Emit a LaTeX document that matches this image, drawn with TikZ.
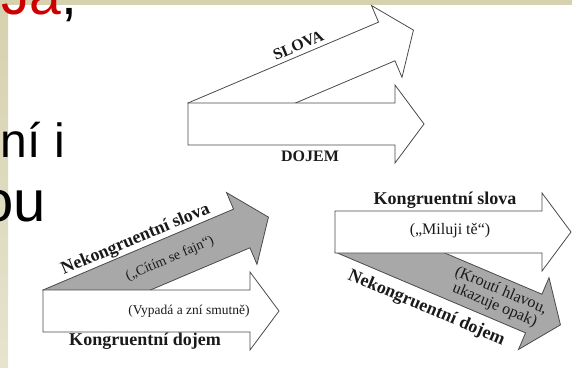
\documentclass[tikz,border=0pt]{standalone}
\usepackage{fontspec}
\setmainfont{Liberation Serif}
\newfontfamily\slidefont{Liberation Sans}
\definecolor{beige}{HTML}{D6D1AE}
\definecolor{beigelight}{HTML}{E6E3CF}
\definecolor{slidered}{HTML}{CC0000}
\definecolor{arrline}{HTML}{4A4A4A}
\definecolor{greyfill}{HTML}{A8A8A8}
\definecolor{ink}{HTML}{1A1A1A}
\tikzset{
  bigarrow/.pic={\path[pic actions] (0,0) -- (207,0) -- (207,-18) -- (236,21) -- (207,60) -- (207,42) -- (0,42) -- cycle;},
  bigarrowbl/.pic={\path[pic actions] (0,-42) -- (207,-42) -- (207,-60) -- (236,-21) -- (207,18) -- (207,0) -- (0,0) -- cycle;},
  whitearrow/.style={draw=arrline, line width=0.8pt, fill=white},
  greyarrow/.style={draw=arrline, line width=0.8pt, fill=greyfill},
  boldlabel/.style={font=\fontsize{16}{18}\selectfont\bfseries, text=ink, inner sep=0pt},
  boldbig/.style={font=\fontsize{18}{20}\selectfont\bfseries, text=ink, inner sep=0pt},
  plainlabel/.style={font=\fontsize{14}{15}\selectfont, text=ink, inner sep=0pt, align=center},
  slidetext/.style={font=\slidefont\fontsize{48}{52}\selectfont, inner sep=0pt}
}
\begin{document}
\begin{tikzpicture}[x=1pt,y=-1pt]
\useasboundingbox (0,0) rectangle (572,367);
\clip (0,0) rectangle (572,367);
\fill[white] (0,0) rectangle (572,367);
% slide frame
\fill[beige] (0,0) rectangle (572,5);
\shade[top color=beige, bottom color=beigelight] (0,5) rectangle (8,367);
% slide text
\node[slidetext, font=\slidefont\fontsize{57}{60}\selectfont, anchor=base east] (t1) at (77.5,14) {\textcolor{slidered}{Ja},};
\node[slidetext, anchor=base east] (t2) at (65,157) {ní i};
\node[slidetext, font=\slidefont\fontsize{58}{60}\selectfont, anchor=base east] (t3) at (46,221) {ou};

% ---- top diagram
\pic[whitearrow, rotate=23] at (188,103) {bigarrow};
\pic[whitearrow] at (188,103) {bigarrow};
\begin{scope}[shift={(188,103)}, rotate=23, transform shape]
  \node[boldlabel] (slova) at (124,-10) {SLOVA};
\end{scope}
\node[boldlabel] (dojem) at (310,156) {DOJEM};

% ---- bottom-left diagram
\pic[greyarrow, rotate=23] at (43,290) {bigarrow};
\pic[whitearrow] at (43,290) {bigarrow};
\begin{scope}[shift={(43,290)}, rotate=23, transform shape]
  \node[boldbig] (nks) at (105,-10) {Nekongruentní slova};
  \node[plainlabel] (citim) at (129,21) {(„Cítím se fajn“)};
\end{scope}
\node[plainlabel, font=\fontsize{13.5}{15}\selectfont] (vypada) at (189,311) {(Vypadá a zní smutně)};
\node[boldbig] (kd) at (145,341) {Kongruentní dojem};

% ---- bottom-right diagram
\pic[greyarrow, rotate=-23] at (335,252) {bigarrowbl};
\pic[whitearrow] at (335,211) {bigarrow};
\begin{scope}[shift={(335,252)}, rotate=-23, transform shape]
  \node[plainlabel, font=\fontsize{16}{16}\selectfont] (krouti) at (168,-21) {(Kroutí hlavou,\\ukazuje opak)};
  \node[boldbig] (nkd) at (106,16) {Nekongruentní dojem};
\end{scope}
\node[boldbig] (ks) at (445,200) {Kongruentní slova};
\node[plainlabel, font=\fontsize{16}{17}\selectfont] (miluji) at (450,231) {(„Miluji tě“)};
\end{tikzpicture}
\end{document}
